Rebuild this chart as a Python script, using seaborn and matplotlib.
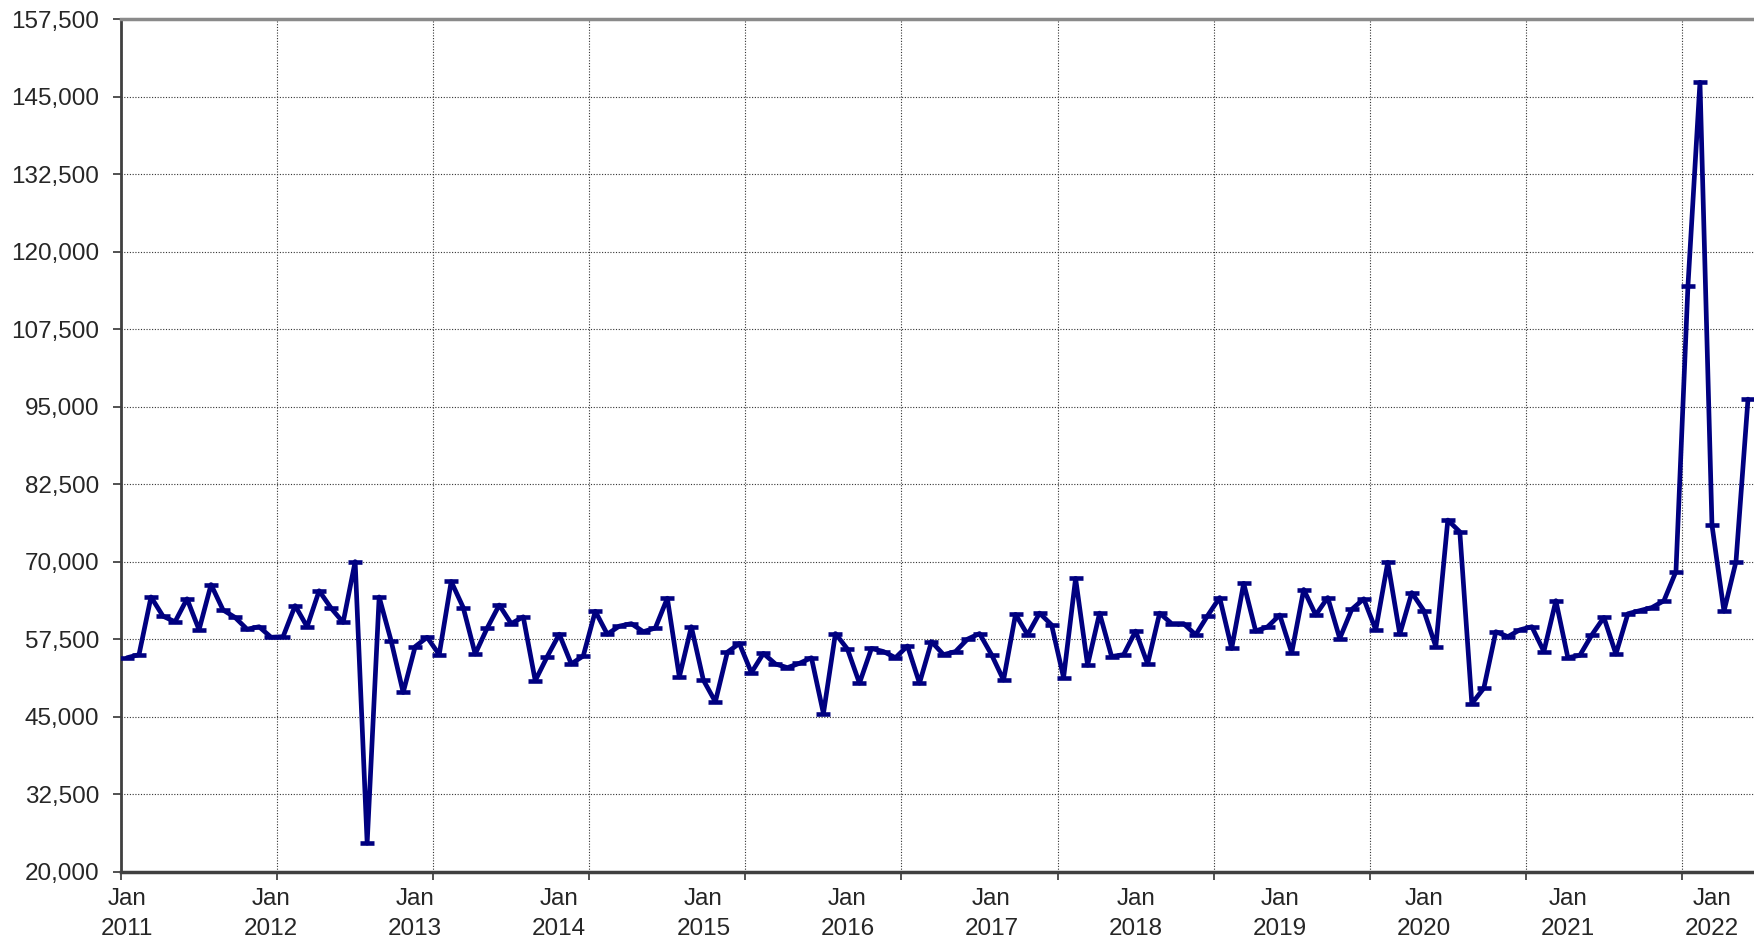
import numpy as np
import pandas as pd
import matplotlib
matplotlib.use("Agg")
import matplotlib.pyplot as plt
import seaborn as sns
from matplotlib.ticker import FixedLocator, FixedFormatter, NullFormatter, StrMethodFormatter

# monthly values, Jan 2011 .. Apr 2022 (one row per year)
values = [
    54500, 55000, 64300, 61200, 60300, 64000, 59000, 66300, 62200, 61000, 59100, 59500,  # 2011
    57800, 57900, 62900, 59500, 65300, 62500, 60200, 70000, 24600, 64300, 57200, 48900,  # 2012
    56300, 57800, 55000, 66800, 62600, 55100, 59300, 63000, 60000, 61100, 50800, 54700,  # 2013
    58300, 53500, 54800, 62000, 58300, 59600, 60000, 58700, 59300, 64100, 51400, 59500,  # 2014
    50900, 47400, 55400, 56800, 52100, 55200, 53500, 52900, 53600, 54500, 45500, 58400,  # 2015
    55900, 50400, 56000, 55500, 54500, 56400, 50400, 57100, 55000, 55500, 57500, 58400,  # 2016
    55000, 50900, 61500, 58200, 61700, 59800, 51300, 67300, 53300, 61700, 54700, 55000,  # 2017
    58800, 53500, 61700, 60000, 60000, 58200, 61300, 64200, 56000, 66500, 58800, 59500,  # 2018
    61400, 55300, 65500, 61400, 64200, 57600, 62300, 64000, 59000, 69900, 58300, 65000,  # 2019
    62100, 56300, 76700, 74800, 47100, 49600, 58700, 57900, 59000, 59500, 55500, 63700,  # 2020
    54500, 54900, 58200, 61000, 55100, 61600, 62100, 62600, 63700, 68400, 114500, 147300,  # 2021
    75900, 62000, 70000, 96200,  # 2022
]
label_years = ["2011", "2012", "2013", "2014", "2015", "2016",
               "2017", "2018", "2019", "2020", "2021", "2022"]
y_ticks = [20000, 32500, 45000, 57500, 70000, 82500, 95000,
           107500, 120000, 132500, 145000, 157500]

df = pd.DataFrame({"month": np.arange(len(values)), "value": values})

sns.set_style("white")
plt.rcParams["font.family"] = ["Liberation Sans", "DejaVu Sans"]

W, H = 1754, 940
fig = plt.figure(figsize=(W / 100, H / 100), dpi=100)
ax = fig.add_axes([121 / W, 1 - 871.7 / H, (W - 121) / W, (871.7 - 19) / H])

sns.lineplot(data=df, x="month", y="value", ax=ax, color="#000080",
             linewidth=3.4, marker="_", markersize=10,
             markeredgewidth=3.3, markeredgecolor="#000080", zorder=3)

n = len(values)
ax.set_xlim(-0.5, n - 0.5)
ax.set_ylim(y_ticks[0], y_ticks[-1])
ax.set_xlabel("")
ax.set_ylabel("")

# gridlines / tick marks every 13 categories, labels every 12
ax.xaxis.set_major_locator(FixedLocator(np.arange(-0.5, n, 13)))
ax.xaxis.set_major_formatter(NullFormatter())
ax.xaxis.set_minor_locator(FixedLocator(np.arange(0, n, 12)))
ax.xaxis.set_minor_formatter(FixedFormatter([f"Jan\n{y}" for y in label_years]))
ax.tick_params(axis="x", which="major", length=5.5, width=1.2, color="#333333", direction="out", bottom=True)
ax.tick_params(axis="x", which="minor", length=0, pad=12, labelsize=17.5, bottom=True)
for lbl in ax.xaxis.get_minorticklabels():
    lbl.set_linespacing(1.45)

ax.yaxis.set_major_locator(FixedLocator(y_ticks))
ax.yaxis.set_major_formatter(StrMethodFormatter("{x:,.0f}"))
ax.tick_params(axis="y", length=5.5, width=1.2, color="#333333", pad=10,
               labelsize=17.5, direction="out", left=True)

ax.grid(True, which="major", axis="both", color="#333333",
        linestyle=(0, (1, 1.5)), linewidth=0.8)
ax.set_axisbelow(True)

ax.spines["right"].set_visible(False)
ax.spines["left"].set_color("#404040")
ax.spines["left"].set_linewidth(2)
ax.spines["bottom"].set_color("#404040")
ax.spines["bottom"].set_linewidth(2.5)
ax.spines["top"].set_color("#8a8a8a")
ax.spines["top"].set_linewidth(2.5)

fig.savefig("out.png", dpi=100)
plt.close(fig)
